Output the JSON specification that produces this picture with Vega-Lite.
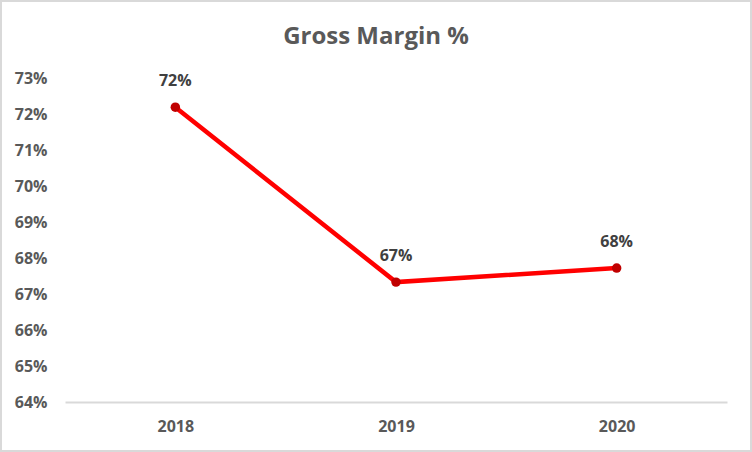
{
  "$schema": "https://vega.github.io/schema/vega-lite/v6.json",
  "autosize": "none",
  "padding": 1,
  "width": 750,
  "height": 450,
  "background": "white",
  "title": {
    "text": "Gross Margin %",
    "font": "Open Sans",
    "fontSize": 24,
    "fontWeight": "bold",
    "color": "#595959",
    "anchor": "middle",
    "offset": -48
  },
  "config": {
    "view": {"stroke": "#d9d9d9", "strokeWidth": 2},
    "font": "Open Sans"
  },
  "data": {
    "values": [
      {"year": "2018", "margin": 0.7219},
      {"year": "2019", "margin": 0.6733},
      {"year": "2020", "margin": 0.6772}
    ]
  },
  "encoding": {
    "x": {
      "field": "year",
      "type": "ordinal",
      "scale": {"type": "point", "range": [64, 726], "padding": 0.5},
      "axis": {
        "title": null,
        "labelAngle": 0,
        "offset": -49,
        "ticks": false,
        "domainColor": "#d9d9d9",
        "domainWidth": 2,
        "labelPadding": 16,
        "labelFont": "Open Sans",
        "labelFontSize": 16,
        "labelFontWeight": "bold",
        "labelColor": "#595959",
        "grid": false
      }
    },
    "y": {
      "field": "margin",
      "type": "quantitative",
      "scale": {"domain": [0.64, 0.73], "range": [401, 77], "zero": false, "nice": false},
      "axis": {
        "title": null,
        "values": [0.64, 0.65, 0.66, 0.67, 0.68, 0.69, 0.70, 0.71, 0.72, 0.73],
        "format": ".0%",
        "offset": -46,
        "ticks": false,
        "domain": false,
        "grid": false,
        "labelPadding": 0,
        "labelFont": "Open Sans",
        "labelFontSize": 16,
        "labelFontWeight": "bold",
        "labelColor": "#595959"
      }
    }
  },
  "layer": [
    {"mark": {"type": "line", "color": "#ff0000", "strokeWidth": 4.5}},
    {"mark": {"type": "point", "filled": true, "color": "#c00000", "size": 90, "opacity": 1}},
    {
      "mark": {"type": "text", "dy": -26, "font": "Open Sans", "fontSize": 16, "fontWeight": "bold", "color": "#404040"},
      "encoding": {"text": {"field": "margin", "type": "quantitative", "format": ".0%"}}
    }
  ]
}
